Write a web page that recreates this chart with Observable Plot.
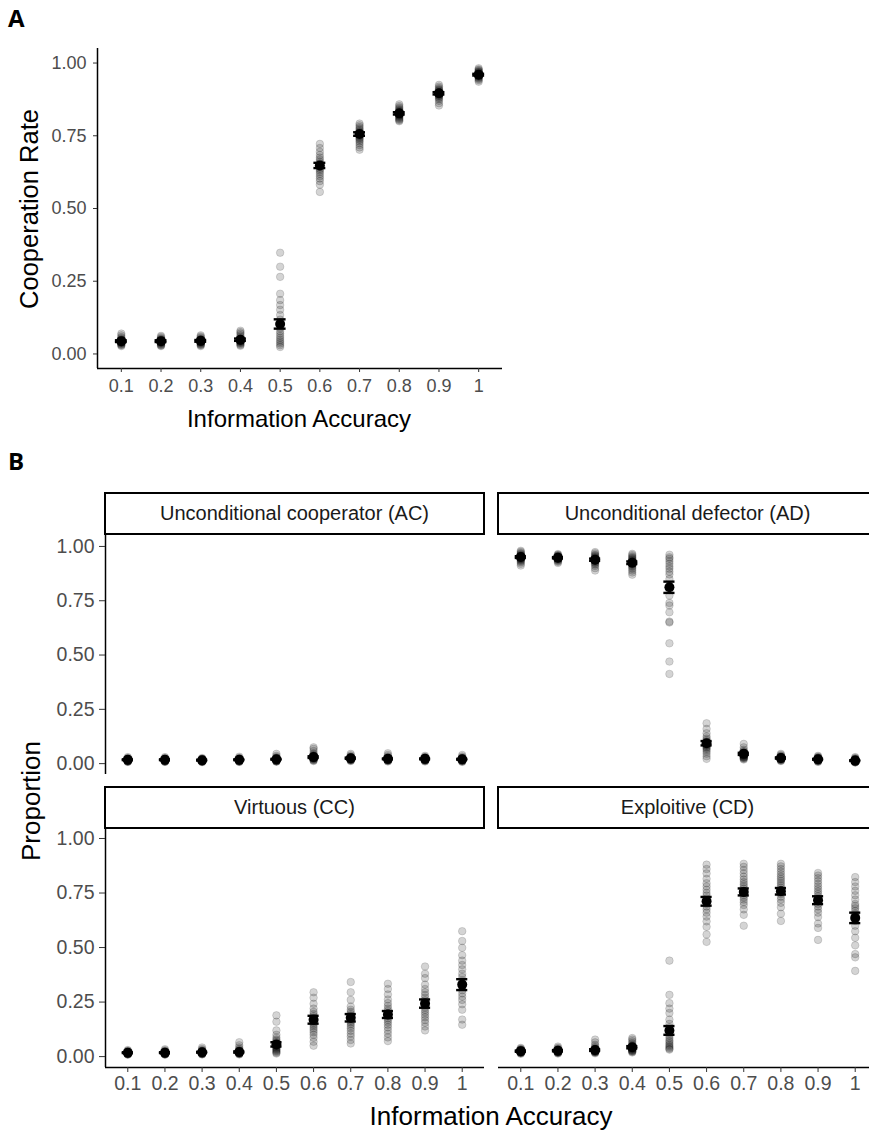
<!DOCTYPE html>
<html>
<head>
<meta charset="utf-8">
<script src="https://cdn.jsdelivr.net/npm/d3@7"></script>
<script src="https://cdn.jsdelivr.net/npm/@observablehq/plot@0.6"></script>
<style>
  body { margin: 0; background: #fff; }
  #fig { position: relative; width: 869px; height: 1133px; overflow: hidden; background: #fff;
         font-family: "Liberation Sans", Arial, sans-serif; }
  .tag { position: absolute; font-family: "Open Sans", sans-serif; font-weight: 700; font-size: 24px; color: #000; line-height: 1; }
  .strip { position: absolute; box-sizing: border-box; border: 2px solid #000; background: #fff;
           display: flex; align-items: center; justify-content: center; font-size: 20px; color: #1a1a1a; }
  .title { position: absolute; color: #000; white-space: nowrap; line-height: 1;
           transform: translate(-50%, -50%); }
  .title.rot { transform: translate(-50%, -50%) rotate(-90deg); }
</style>
</head>
<body>
<div id="fig"></div>
<script>
// Information accuracy conditions and their tick labels
const accuracy = [0.1, 0.2, 0.3, 0.4, 0.5, 0.6, 0.7, 0.8, 0.9, 1];
const accuracyLabels = ["0.1", "0.2", "0.3", "0.4", "0.5", "0.6", "0.7", "0.8", "0.9", "1"];
const rateTicks = [0, 0.25, 0.5, 0.75, 1];

// Panel A: cooperation rate per simulation run
const coopRuns = [
  [0.070,0.064,0.058,0.054,0.050,0.048,0.046,0.045,0.044,0.043,0.042,0.041,0.040,0.039,0.038,0.036,0.034,0.032,0.030,0.027],
  [0.062,0.058,0.054,0.051,0.049,0.047,0.046,0.045,0.044,0.043,0.042,0.041,0.040,0.039,0.037,0.035,0.033,0.031,0.029,0.027],
  [0.064,0.060,0.056,0.052,0.050,0.048,0.047,0.046,0.045,0.044,0.043,0.042,0.041,0.040,0.038,0.036,0.034,0.032,0.030,0.027],
  [0.080,0.075,0.070,0.064,0.058,0.054,0.051,0.049,0.048,0.047,0.046,0.045,0.044,0.043,0.041,0.039,0.037,0.034,0.031,0.028],
  [0.348,0.300,0.265,0.207,0.185,0.168,0.152,0.134,0.118,0.100,0.088,0.078,0.070,0.062,0.055,0.048,0.042,0.036,0.030,0.024],
  [0.722,0.708,0.695,0.684,0.675,0.668,0.661,0.655,0.650,0.646,0.642,0.637,0.632,0.626,0.619,0.611,0.603,0.594,0.582,0.557],
  [0.792,0.786,0.780,0.775,0.770,0.766,0.762,0.759,0.756,0.753,0.750,0.747,0.744,0.740,0.736,0.731,0.725,0.718,0.710,0.702],
  [0.858,0.852,0.847,0.843,0.839,0.836,0.833,0.830,0.828,0.826,0.824,0.822,0.820,0.818,0.815,0.812,0.809,0.806,0.803,0.800],
  [0.925,0.919,0.914,0.910,0.907,0.904,0.901,0.899,0.897,0.895,0.893,0.891,0.889,0.887,0.884,0.880,0.876,0.870,0.862,0.854],
  [0.982,0.978,0.975,0.972,0.970,0.968,0.966,0.964,0.962,0.961,0.960,0.959,0.957,0.955,0.953,0.951,0.948,0.945,0.941,0.936]
];
const coopMean = [0.044, 0.044, 0.045, 0.049, 0.103, 0.648, 0.756, 0.827, 0.896, 0.960];
const coopErr  = [0.003, 0.003, 0.003, 0.004, 0.016, 0.009, 0.006, 0.004, 0.004, 0.003];

// Panel B: strategy proportions per simulation run
const strategyNames = ["Unconditional cooperator (AC)", "Unconditional defector (AD)", "Virtuous (CC)", "Exploitive (CD)"];

const acRuns = [
  [0.030,0.026,0.023,0.021,0.020,0.019,0.018,0.018,0.017,0.017,0.016,0.016,0.015,0.014,0.013,0.012,0.011,0.010,0.009,0.008],
  [0.030,0.026,0.023,0.021,0.020,0.019,0.018,0.018,0.017,0.017,0.016,0.016,0.015,0.014,0.013,0.012,0.011,0.010,0.009,0.008],
  [0.026,0.023,0.021,0.019,0.018,0.017,0.016,0.016,0.015,0.015,0.014,0.014,0.013,0.012,0.012,0.011,0.010,0.009,0.008,0.007],
  [0.032,0.027,0.024,0.021,0.020,0.019,0.018,0.018,0.017,0.017,0.016,0.016,0.015,0.014,0.013,0.012,0.011,0.010,0.009,0.008],
  [0.045,0.036,0.030,0.026,0.023,0.021,0.020,0.019,0.018,0.018,0.017,0.017,0.016,0.015,0.014,0.013,0.012,0.011,0.010,0.009],
  [0.075,0.068,0.058,0.048,0.042,0.038,0.035,0.033,0.031,0.030,0.029,0.028,0.027,0.025,0.023,0.021,0.019,0.017,0.015,0.012],
  [0.045,0.038,0.033,0.030,0.028,0.027,0.026,0.025,0.024,0.024,0.023,0.022,0.021,0.020,0.019,0.018,0.017,0.016,0.014,0.012],
  [0.048,0.040,0.033,0.028,0.025,0.024,0.023,0.022,0.021,0.021,0.020,0.020,0.019,0.018,0.017,0.016,0.015,0.014,0.012,0.010],
  [0.036,0.031,0.028,0.026,0.024,0.023,0.022,0.022,0.021,0.021,0.020,0.020,0.019,0.018,0.017,0.016,0.015,0.014,0.012,0.010],
  [0.040,0.033,0.028,0.025,0.023,0.022,0.021,0.020,0.019,0.019,0.018,0.018,0.017,0.016,0.015,0.014,0.013,0.012,0.010,0.008]
];
const acMean = [0.018, 0.018, 0.016, 0.018, 0.020, 0.030, 0.025, 0.022, 0.022, 0.020];
const acErr  = [0.002, 0.002, 0.002, 0.002, 0.002, 0.004, 0.003, 0.002, 0.002, 0.002];

const adRuns = [
  [0.980,0.975,0.970,0.966,0.962,0.959,0.956,0.954,0.952,0.950,0.948,0.946,0.944,0.942,0.939,0.936,0.932,0.927,0.920,0.912],
  [0.965,0.962,0.959,0.957,0.955,0.953,0.951,0.950,0.949,0.948,0.947,0.946,0.945,0.943,0.941,0.939,0.936,0.933,0.929,0.924],
  [0.974,0.968,0.962,0.958,0.954,0.950,0.947,0.944,0.941,0.939,0.937,0.935,0.932,0.929,0.926,0.922,0.917,0.910,0.900,0.889],
  [0.966,0.960,0.954,0.949,0.945,0.941,0.937,0.934,0.931,0.928,0.925,0.922,0.918,0.914,0.910,0.904,0.897,0.889,0.880,0.870],
  [0.962,0.950,0.943,0.932,0.920,0.908,0.897,0.884,0.871,0.850,0.820,0.800,0.774,0.740,0.728,0.697,0.654,0.650,0.554,0.470,0.413],
  [0.186,0.160,0.140,0.125,0.115,0.108,0.102,0.097,0.093,0.090,0.087,0.083,0.079,0.075,0.070,0.064,0.056,0.046,0.034,0.022],
  [0.091,0.075,0.064,0.058,0.053,0.050,0.047,0.045,0.043,0.041,0.039,0.037,0.035,0.033,0.031,0.029,0.027,0.025,0.022,0.019],
  [0.045,0.040,0.036,0.033,0.031,0.029,0.028,0.027,0.026,0.025,0.024,0.023,0.022,0.021,0.020,0.019,0.018,0.016,0.014,0.012],
  [0.036,0.032,0.029,0.027,0.025,0.023,0.022,0.021,0.020,0.019,0.018,0.018,0.017,0.016,0.015,0.014,0.013,0.012,0.010,0.008],
  [0.030,0.026,0.023,0.021,0.019,0.018,0.017,0.016,0.015,0.014,0.013,0.013,0.012,0.011,0.010,0.009,0.008,0.007,0.006,0.005]
];
const adMean = [0.951, 0.948, 0.939, 0.925, 0.812, 0.094, 0.045, 0.026, 0.020, 0.014];
const adErr  = [0.004, 0.003, 0.005, 0.006, 0.026, 0.010, 0.005, 0.003, 0.002, 0.002];

const ccRuns = [
  [0.030,0.027,0.024,0.022,0.021,0.020,0.019,0.018,0.018,0.017,0.017,0.016,0.016,0.015,0.014,0.013,0.012,0.011,0.010,0.009],
  [0.034,0.029,0.025,0.023,0.021,0.020,0.019,0.018,0.018,0.017,0.017,0.016,0.015,0.015,0.014,0.013,0.012,0.011,0.010,0.009],
  [0.042,0.035,0.030,0.026,0.024,0.022,0.021,0.020,0.019,0.019,0.018,0.018,0.017,0.016,0.015,0.014,0.013,0.012,0.011,0.010],
  [0.066,0.052,0.042,0.035,0.030,0.027,0.025,0.023,0.022,0.021,0.020,0.019,0.018,0.017,0.016,0.015,0.014,0.013,0.012,0.010],
  [0.189,0.160,0.120,0.100,0.087,0.078,0.072,0.066,0.060,0.055,0.050,0.046,0.042,0.038,0.034,0.030,0.026,0.022,0.018,0.014],
  [0.295,0.270,0.242,0.220,0.205,0.195,0.186,0.178,0.170,0.163,0.156,0.148,0.140,0.131,0.122,0.112,0.100,0.086,0.068,0.050],
  [0.342,0.295,0.260,0.230,0.215,0.205,0.196,0.188,0.180,0.172,0.165,0.158,0.150,0.140,0.130,0.118,0.105,0.092,0.076,0.060],
  [0.334,0.310,0.285,0.262,0.245,0.232,0.220,0.210,0.200,0.192,0.185,0.176,0.167,0.157,0.146,0.134,0.120,0.105,0.088,0.071],
  [0.413,0.380,0.360,0.330,0.310,0.295,0.282,0.270,0.258,0.246,0.236,0.225,0.214,0.203,0.192,0.180,0.168,0.155,0.138,0.120],
  [0.575,0.530,0.499,0.465,0.440,0.420,0.400,0.380,0.365,0.350,0.335,0.320,0.305,0.290,0.275,0.260,0.240,0.215,0.170,0.146]
];
const ccMean = [0.018, 0.018, 0.020, 0.021, 0.056, 0.169, 0.178, 0.193, 0.243, 0.330];
const ccErr  = [0.002, 0.002, 0.002, 0.003, 0.010, 0.018, 0.017, 0.016, 0.019, 0.025];

const cdRuns = [
  [0.040,0.036,0.033,0.031,0.029,0.028,0.027,0.026,0.025,0.025,0.024,0.023,0.022,0.021,0.020,0.019,0.018,0.017,0.015,0.013],
  [0.046,0.040,0.036,0.033,0.031,0.029,0.028,0.027,0.027,0.026,0.025,0.024,0.023,0.022,0.021,0.020,0.019,0.018,0.016,0.014],
  [0.078,0.065,0.054,0.046,0.040,0.036,0.033,0.031,0.029,0.028,0.027,0.026,0.025,0.024,0.023,0.022,0.021,0.020,0.018,0.015],
  [0.085,0.078,0.070,0.062,0.056,0.051,0.047,0.044,0.042,0.040,0.038,0.036,0.034,0.032,0.030,0.028,0.026,0.024,0.022,0.019],
  [0.440,0.283,0.245,0.220,0.200,0.170,0.150,0.135,0.120,0.105,0.095,0.085,0.075,0.068,0.060,0.053,0.047,0.041,0.036,0.032],
  [0.880,0.860,0.840,0.815,0.795,0.780,0.765,0.750,0.738,0.725,0.712,0.700,0.688,0.675,0.660,0.642,0.620,0.595,0.560,0.526],
  [0.884,0.870,0.855,0.840,0.825,0.812,0.800,0.790,0.780,0.770,0.760,0.750,0.740,0.730,0.720,0.708,0.695,0.675,0.650,0.600],
  [0.884,0.872,0.860,0.848,0.836,0.825,0.815,0.805,0.795,0.785,0.775,0.765,0.755,0.745,0.733,0.720,0.705,0.685,0.655,0.622],
  [0.842,0.830,0.818,0.805,0.792,0.780,0.768,0.757,0.746,0.735,0.724,0.713,0.700,0.688,0.675,0.660,0.640,0.610,0.590,0.535],
  [0.823,0.800,0.780,0.760,0.740,0.720,0.700,0.690,0.680,0.668,0.655,0.640,0.622,0.600,0.575,0.545,0.510,0.470,0.455,0.393]
];
const cdMean = [0.025, 0.027, 0.030, 0.043, 0.120, 0.712, 0.755, 0.758, 0.717, 0.636];
const cdErr  = [0.003, 0.003, 0.004, 0.005, 0.020, 0.020, 0.016, 0.015, 0.018, 0.024];

// ---------------------------------------------------------------------------
const FONT = "'Liberation Sans', Arial, sans-serif";
const X_DOMAIN = [0.04, 1.06];   // discrete-style padding of 0.6 steps on each side
const CAP = 0.015;               // half-width of error bar caps, in accuracy units

const runsTable = runs => runs.flatMap((vals, i) => vals.map(v => ({acc: accuracy[i], value: v})));
const summaryTable = (mean, err) => accuracy.map((a, i) => ({acc: a, mean: mean[i], err: err[i]}));

function panel({runs, mean, err, width, height, margins, yDomain, showY, showX, axisStyle}) {
  const summary = summaryTable(mean, err);
  const {fontSize, yTick, yPad, xTick, xPad} = axisStyle;
  const marks = [];
  if (showY) {
    marks.push(Plot.ruleX([X_DOMAIN[0]], {stroke: "#000", strokeWidth: 1.5}));
    marks.push(Plot.axisY({ticks: rateTicks, tickFormat: d3.format(".2f"), tickSize: yTick, tickPadding: yPad,
      fontSize, stroke: "#333", fill: "#4d4d4d", label: null}));
  }
  if (showX) {
    marks.push(Plot.ruleY([yDomain[0]], {stroke: "#000", strokeWidth: 1.5}));
    marks.push(Plot.axisX({ticks: accuracy, tickFormat: d => accuracyLabels[accuracy.indexOf(d)],
      tickSize: xTick, tickPadding: xPad, fontSize, stroke: "#333", fill: "#4d4d4d", label: null}));
  }
  marks.push(
    // individual runs: translucent filled circles with a translucent rim
    Plot.dot(runsTable(runs), {x: "acc", y: "value", r: 3.8, fill: "#000", fillOpacity: 0.17,
      stroke: "#000", strokeOpacity: 0.15, strokeWidth: 0.9}),
    // mean with error bars
    Plot.ruleX(summary, {x: "acc", y1: d => d.mean - d.err, y2: d => d.mean + d.err, stroke: "#000", strokeWidth: 2}),
    Plot.ruleY(summary, {y: d => d.mean + d.err, x1: d => d.acc - CAP, x2: d => d.acc + CAP, stroke: "#000", strokeWidth: 2.4}),
    Plot.ruleY(summary, {y: d => d.mean - d.err, x1: d => d.acc - CAP, x2: d => d.acc + CAP, stroke: "#000", strokeWidth: 2.4}),
    Plot.dot(summary, {x: "acc", y: "mean", r: 5, fill: "#000"})
  );
  return Plot.plot({
    width, height, ...margins,
    x: {type: "linear", domain: X_DOMAIN, ...(showX ? {} : {axis: null})},
    y: {domain: yDomain, ...(showY ? {} : {axis: null})},
    style: {fontFamily: FONT, background: "transparent", overflow: "visible"},
    marks
  });
}

const fig = document.getElementById("fig");
function place(el, left, top) {
  el.style.position = "absolute";
  el.style.left = left + "px";
  el.style.top = top + "px";
  el.style.maxWidth = "none";
  fig.appendChild(el);
}
function addDiv(cls, text, css) {
  const d = document.createElement("div");
  d.className = cls;
  d.textContent = text;
  Object.assign(d.style, css);
  fig.appendChild(d);
  return d;
}

// ---- Panel A -------------------------------------------------------------
addDiv("tag", "A", {left: "8px", top: "6px"});
place(panel({
  runs: coopRuns, mean: coopMean, err: coopErr,
  width: 560, height: 440,
  margins: {marginLeft: 97, marginRight: 58, marginTop: 48, marginBottom: 72},
  yDomain: [-0.05, 1.05], showY: true, showX: true,
  axisStyle: {fontSize: 18, yTick: 4, yPad: 7, xTick: 4, xPad: 7}
}), 0, 0);
addDiv("title rot", "Cooperation Rate", {left: "30px", top: "209px", fontSize: "25.5px"});
addDiv("title", "Information Accuracy", {left: "299px", top: "419px", fontSize: "24px"});

// ---- Panel B -------------------------------------------------------------
addDiv("tag", "B", {left: "8px", top: "449px"});
const B_Y = [-0.05, 1.055];
const facets = [
  {runs: acRuns, mean: acMean, err: acErr, col: 0, row: 0},
  {runs: adRuns, mean: adMean, err: adErr, col: 1, row: 0},
  {runs: ccRuns, mean: ccMean, err: ccErr, col: 0, row: 1},
  {runs: cdRuns, mean: cdMean, err: cdErr, col: 1, row: 1}
];
const colLayout = [
  {left: 0, width: 490, marginLeft: 105, marginRight: 6, stripLeft: 104},
  {left: 490, width: 400, marginLeft: 8, marginRight: 13, stripLeft: 497}
];
const rowLayout = [
  {top: 524, height: 256, marginTop: 10, marginBottom: 6, stripTop: 492},
  {top: 816, height: 291, marginTop: 10, marginBottom: 40, stripTop: 786}
];
facets.forEach((f, i) => {
  const c = colLayout[f.col], r = rowLayout[f.row];
  place(panel({
    runs: f.runs, mean: f.mean, err: f.err,
    width: c.width, height: r.height,
    margins: {marginLeft: c.marginLeft, marginRight: c.marginRight, marginTop: r.marginTop, marginBottom: r.marginBottom},
    yDomain: B_Y, showY: f.col === 0, showX: f.row === 1,
    axisStyle: {fontSize: 19.5, yTick: 6, yPad: 5, xTick: 5, xPad: 4}
  }), c.left, r.top);
  addDiv("strip", strategyNames[i], {left: c.stripLeft + "px", top: r.stripTop + "px", width: "381px", height: "43px"});
});
addDiv("title rot", "Proportion", {left: "31px", top: "801px", fontSize: "26px"});
addDiv("title", "Information Accuracy", {left: "491px", top: "1116px", fontSize: "26px"});
</script>
</body>
</html>
